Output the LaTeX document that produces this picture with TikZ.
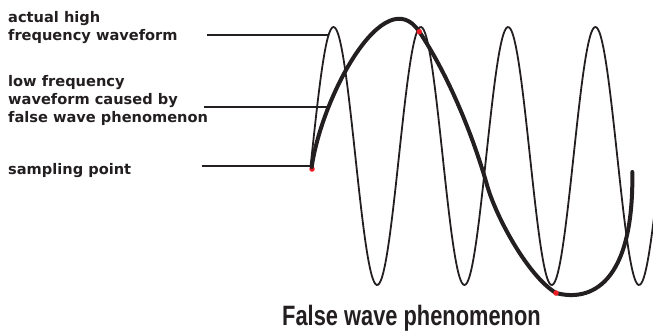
\documentclass[tikz,border=0pt]{standalone}
\usepackage{fontspec}
\newfontfamily\lblfont{DejaVu Sans}
\newfontfamily\titlefont{Liberation Sans}[FakeStretch=0.78]
\definecolor{ink}{HTML}{231F20}
\definecolor{dotred}{HTML}{ED1C24}
\begin{document}
\begin{tikzpicture}[x=1pt,y=-1pt,
  lbl/.style={anchor=base west,inner sep=0pt,align=left,text=ink,
    font=\lblfont\bfseries\fontsize{14.6}{18}\selectfont},
  pointer/.style={draw=ink,line width=1.8pt},
  hfwave/.style={draw=ink,line width=1.8pt},
  lfwave/.style={draw=ink,line width=4pt,line cap=round},
  sample/.style={circle,fill=dotred,inner sep=0pt,minimum size=5.5pt}]
\useasboundingbox (0,0) rectangle (653,330);
% high frequency waveform
\begin{scope}
\clip (0,0) rectangle (653,330);
\draw[hfwave] plot[domain=310.5:660,samples=260,smooth] (\x,{156-129*cos(4.1237*(\x-333.5))});
\end{scope}
% labels (anchored at the baseline of their last line)
\node[lbl] (l1) at (8,40.7) {actual high\\frequency waveform};
\node[lbl] (l2) at (8,122.7) {low frequency\\waveform caused by\\false wave phenomenon};
\node[lbl] (l3) at (8,174) {sampling point};
\coordinate (s1) at (206.5,35);
\coordinate (e1) at (329,35);
\coordinate (s2) at (203.5,107.3);
\coordinate (e2) at (326.5,107.3);
\coordinate (s3) at (201.5,166);
\coordinate (e3) at (311.5,166);
\draw[pointer] (s1) -- (e1);
\draw[pointer] (s2) -- (e2);
\draw[pointer] (s3) -- (e3);
% low frequency waveform
\node[sample] (d1) at (312,169) {};
\coordinate (w0) at (311.7,167);
\coordinate (w1) at (419.3,31.7);
\coordinate (w2) at (487,185);
\coordinate (w3) at (556,293);
\coordinate (w4) at (632.3,172);
\draw[lfwave] (w0) .. controls (322,95) and (385,-20) .. (w1)
  .. controls (452,81) and (475,143) .. (w2)
  .. controls (496,217) and (528,276) .. (w3)
  .. controls (590,302) and (634,285) .. (w4);
\node[sample] (d2) at (w1) {};
\node[sample] (d3) at (w3) {};
% title
\node[anchor=base,inner sep=0pt,text=ink,font=\titlefont\bfseries\fontsize{28}{30}\selectfont] (title) at (411.5,325) {False wave phenomenon};
\end{tikzpicture}
\end{document}
